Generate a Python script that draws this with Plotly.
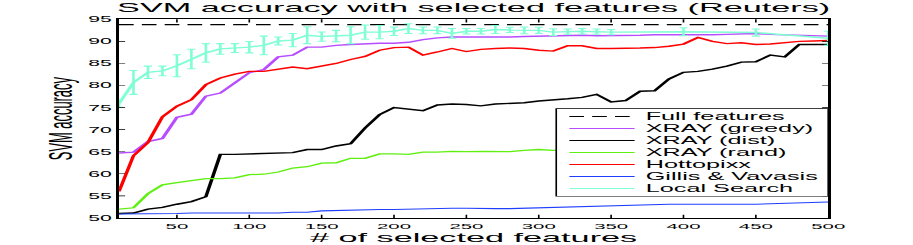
import plotly.graph_objects as go

# ---------------- data ----------------
n_features = [10, 20, 30, 40, 50, 60, 70, 80, 90, 100,
              110, 120, 130, 140, 150, 160, 170, 180, 190, 200,
              210, 220, 230, 240, 250, 260, 270, 280, 290, 300,
              310, 320, 330, 340, 350, 360, 370, 380, 390, 400,
              410, 420, 430, 440, 450, 460, 470, 480, 490, 500]

full_features_acc = 93.8

xray_greedy = [64.7, 64.9, 67.3, 68.0, 72.8, 73.5, 77.6, 78.3, 80.6, 82.9,
               83.6, 86.5, 86.9, 88.7, 88.7, 89.1, 89.3, 89.5, 89.6, 89.6,
               89.8, 90.4, 90.8, 91.0, 91.0, 91.0, 90.9, 91.0, 91.1, 91.2,
               91.3, 91.4, 91.4, 91.3, 91.3, 91.4, 91.4, 91.5, 91.5, 91.5,
               91.4, 91.5, 91.6, 91.7, 91.8, 91.6, 91.5, 91.4, 91.3, 91.2]

xray_dist = [51.0, 51.1, 52.0, 52.4, 53.1, 53.7, 54.8, 64.4, 64.4, 64.5,
             64.6, 64.8, 64.8, 65.5, 65.5, 66.3, 66.8, 70.4, 73.4, 75.0,
             74.6, 74.3, 75.6, 75.8, 75.7, 75.4, 75.8, 75.9, 76.1, 76.5,
             76.7, 77.0, 77.3, 78.0, 76.3, 76.6, 78.7, 78.8, 81.5, 83.0,
             83.2, 83.7, 84.4, 85.3, 85.4, 86.9, 86.5, 89.3, 89.3, 89.3]

xray_rand = [52.0, 52.3, 55.5, 57.5, 58.0, 58.4, 58.9, 58.9, 59.1, 59.8,
             59.9, 60.4, 61.3, 61.6, 62.4, 62.5, 63.5, 63.5, 64.5, 64.5,
             64.4, 64.9, 64.9, 65.1, 65.0, 65.1, 65.1, 65.0, 65.3, 65.5,
             65.3, 65.4, 65.6, 65.5, 65.8, 65.9, 66.0, 65.9, 66.2, 66.3,
             66.2, 66.4, 66.5, 66.4, 66.6, 66.7, 66.6, 66.8, 66.9, 67.0]

hottopixx = [56.0, 64.1, 67.1, 72.9, 75.3, 76.8, 80.2, 81.7, 82.6, 83.2,
             83.2, 83.7, 84.2, 83.8, 84.4, 85.0, 85.9, 86.6, 88.0, 88.6,
             88.7, 86.9, 87.6, 88.4, 87.7, 88.2, 88.4, 88.5, 88.4, 88.0,
             87.8, 89.0, 89.0, 88.4, 88.4, 88.4, 88.5, 88.6, 88.9, 89.4,
             90.9, 90.0, 89.5, 89.7, 89.3, 89.4, 89.7, 90.0, 90.1, 90.2]

gillis_vavasis = [50.9, 50.9, 51.0, 51.0, 51.0, 51.1, 51.1, 51.1, 51.1, 51.1,
                  51.1, 51.1, 51.3, 51.3, 51.6, 51.7, 51.7, 51.8, 51.9, 51.9,
                  52.0, 52.1, 52.2, 52.2, 52.2, 52.1, 52.1, 52.1, 52.2, 52.3,
                  52.4, 52.5, 52.6, 52.6, 52.7, 52.8, 52.9, 53.0, 53.1, 53.1,
                  53.1, 53.0, 53.0, 53.1, 53.1, 53.2, 53.3, 53.4, 53.5, 53.6]

local_search_x = [10, 20, 30, 40, 50, 60, 70, 80, 90, 100,
                  110, 120, 130, 140, 150, 160, 170, 180, 190, 200,
                  210, 220, 230, 240, 250, 260, 270, 280, 290, 300,
                  310, 320, 330, 340, 350, 400, 450, 500]
local_search = [75.9, 80.7, 83.0, 83.3, 84.5, 86.0, 87.4, 88.3, 88.5, 88.7,
                89.1, 90.1, 90.3, 91.4, 91.1, 91.2, 91.4, 92.1, 92.1, 92.3,
                92.9, 92.5, 92.5, 91.8, 92.3, 92.3, 92.7, 92.6, 92.5, 92.5,
                92.1, 92.2, 92.3, 92.2, 92.1, 92.2, 92.0, 90.7]
local_search_err = [0.8, 2.7, 1.4, 1.1, 2.5, 2.2, 2.1, 1.2, 1.0, 1.3,
                    2.1, 0.9, 1.5, 1.9, 1.05, 1.3, 1.9, 1.6, 1.5, 0.95,
                    1.1, 0.75, 0.75, 1.1, 0.6, 0.6, 0.9, 0.6, 0.75, 0.7,
                    0.75, 0.6, 0.6, 0.6, 0.6, 0.9, 0.8, 1.6]

x_ticks = [50, 100, 150, 200, 250, 300, 350, 400, 450, 500]
y_ticks = [50, 55, 60, 65, 70, 75, 80, 85, 90, 95]

series_names = ["Full features", "XRAY (greedy)", "XRAY (dist)",
                "XRAY (rand)", "Hottopixx", "Gillis & Vavasis", "Local Search"]

# ---------------- styles ----------------
colors = {"Full features": "black", "XRAY (greedy)": "#b84dff",
          "XRAY (dist)": "black", "XRAY (rand)": "#5ef010",
          "Hottopixx": "#ff0000", "Gillis & Vavasis": "#1f3fff",
          "Local Search": "#7fffd4"}
widths = {"Full features": 2, "XRAY (greedy)": 2.2, "XRAY (dist)": 2.2,
          "XRAY (rand)": 2, "Hottopixx": 2.2, "Gillis & Vavasis": 1.7,
          "Local Search": 2.2}
dashes = {"Full features": "9px,5px"}

# figure drawn at 560x380 and then stretched to 913x245 (like the reference)
W0, H0 = 560, 380
SX, SY = 913 / W0, 245 / H0
FONT = "Liberation Sans, Arial, Helvetica, sans-serif"


def line_style(name):
    return dict(color=colors[name], width=widths[name],
                dash=dashes.get(name, "solid"))


fig = go.Figure()
fig.add_trace(go.Scatter(x=[n_features[0], n_features[-1]],
                         y=[full_features_acc, full_features_acc],
                         mode="lines", name=series_names[0],
                         line=line_style(series_names[0])))
for name, vals in zip(series_names[1:6],
                      [xray_greedy, xray_dist, xray_rand, hottopixx,
                       gillis_vavasis]):
    fig.add_trace(go.Scatter(x=n_features, y=vals, mode="lines", name=name,
                             line=line_style(name)))
fig.add_trace(go.Scatter(x=local_search_x, y=local_search, mode="lines",
                         name=series_names[6],
                         line=line_style(series_names[6]),
                         error_y=dict(type="data", array=local_search_err,
                                      visible=True,
                                      color=colors[series_names[6]],
                                      thickness=1.6, width=2.5)))

# ---------------- legend box (MATLAB style) ----------------
leg_x0, leg_x1 = 0.6165, 1.0
leg_top, leg_bot = 0.5505, 0.1091
row_top, row_step = 0.5102, 0.0604
sample_x0, sample_x1, text_x = 0.635, 0.727, 0.739

fig.add_shape(type="rect", xref="paper", yref="paper",
              x0=leg_x0, x1=leg_x1, y0=leg_bot, y1=leg_top,
              fillcolor="white", line=dict(color="black", width=1),
              layer="above")
for i, name in enumerate(series_names):
    yy = row_top - i * row_step
    st = line_style(name)
    fig.add_shape(type="line", xref="paper", yref="paper",
                  x0=sample_x0, x1=sample_x1, y0=yy, y1=yy,
                  line=dict(color=st["color"], width=1.6, dash=st["dash"]),
                  layer="above")
    fig.add_annotation(text=name, xref="paper", yref="paper", x=text_x, y=yy,
                       xanchor="left", yanchor="middle", showarrow=False,
                       font=dict(size=15.5, family=FONT, color="black"))

fig.update_layout(
    width=W0, height=H0,
    margin=dict(l=73, r=52.3, t=29.5, b=42.4, autoexpand=False),
    plot_bgcolor="white", paper_bgcolor="white",
    font=dict(family=FONT, color="black", size=12.5),
    title=dict(text="SVM accuracy with selected features (Reuters)",
               x=0.5, xref="paper", xanchor="center",
               y=1 - 12 / H0, yref="container", yanchor="middle",
               font=dict(size=21, family=FONT, color="black")),
    showlegend=False,
    xaxis=dict(range=[10, 500], tickmode="array", tickvals=x_ticks,
               ticks="inside", ticklen=5, tickwidth=1, tickcolor="black",
               showline=True, linecolor="black", linewidth=1.5,
               mirror="ticks", showgrid=False, zeroline=False,
               tickfont=dict(size=12.5),
               title=dict(text="# of selected features",
                          font=dict(size=21), standoff=4)),
    yaxis=dict(range=[50, 95], tickmode="array", tickvals=y_ticks,
               ticks="inside", ticklen=4, tickwidth=1, tickcolor="black",
               showline=True, linecolor="black", linewidth=1.5,
               mirror="ticks", showgrid=False, zeroline=False,
               tickfont=dict(size=13),
               title=dict(text="SVM accuracy", font=dict(size=20),
                          standoff=4)),
)

post = """
var gd = document.getElementById('{plot_id}');
document.documentElement.style.margin = '0';
document.documentElement.style.overflow = 'hidden';
document.body.style.margin = '0';
document.body.style.padding = '0';
document.body.style.overflow = 'hidden';
gd.style.transformOrigin = '0 0';
gd.style.transform = 'scale(%.6f, %.6f)';
""" % (SX, SY)

fig.write_html("out.html", post_script=post,
               config={"displayModeBar": False})
